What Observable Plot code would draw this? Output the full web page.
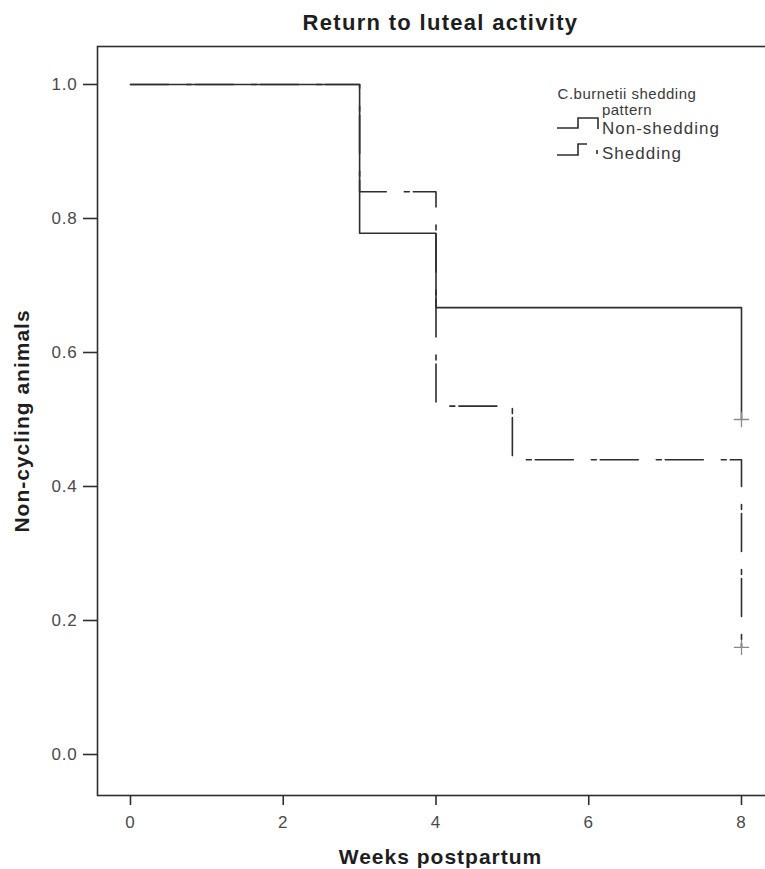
<!DOCTYPE html>
<html>
<head>
<meta charset="utf-8">
<script src="https://cdn.jsdelivr.net/npm/d3@7"></script>
<script src="https://cdn.jsdelivr.net/npm/@observablehq/plot@0.6"></script>
<style>
  html, body { margin: 0; padding: 0; background: white; overflow: hidden; }
  #wrap { position: relative; width: 765px; height: 869px; overflow: hidden; }
  #wrap svg.plot { display: block; max-width: none; }
  g[aria-label="x-axis tick label"], g[aria-label="y-axis tick label"] { fill: #4a4a4a; letter-spacing: 0.8px; }
  .ttl text { letter-spacing: 1.3px; }
  .lab text { letter-spacing: 1px; }
  #legend { position: absolute; left: 0; top: 0; pointer-events: none; font-family: "Liberation Sans", Arial, sans-serif; }
  #legend text { fill: #3a3a3a; }
  #legend text.t { font-size: 15px; letter-spacing: 0.5px; }
  #legend text.n { font-size: 17px; letter-spacing: 1px; }
</style>
</head>
<body>
<div id="wrap"></div>
<script>
// ---- data ----
const xTicks = [0, 2, 4, 6, 8];
const yTicks = [0, 0.2, 0.4, 0.6, 0.8, 1.0];

const nonSheddingWeeks = [0, 3, 4, 8];
const nonSheddingSurv  = [1.0, 0.778, 0.667, 0.5];

const sheddingWeeks = [0, 3, 4, 5, 8];
const sheddingSurv  = [1.0, 0.84, 0.52, 0.44, 0.16];

const censorWeeks = [8, 8];
const censorSurv  = [0.5, 0.16];

const titleText = "Return to luteal activity";
const xLabel = "Weeks postpartum";
const yLabel = "Non-cycling animals";
const legendTitle = ["C.burnetii shedding", "pattern"];
const legendNames = ["Non-shedding", "Shedding"];

const nonShed = nonSheddingWeeks.map((w, i) => ({week: w, surv: nonSheddingSurv[i]}));
const shed = sheddingWeeks.map((w, i) => ({week: w, surv: sheddingSurv[i]}));
const censor = censorWeeks.map((w, i) => ({week: w, surv: censorSurv[i]}));

const font = "Liberation Sans, Arial, Helvetica, sans-serif";
const ink = "#2e2e2e";

const chart = Plot.plot({
  width: 765,
  height: 869,
  marginLeft: 97,
  marginRight: -18,
  marginTop: 46,
  marginBottom: 74,
  x: {domain: [-0.432, 8.55]},
  y: {domain: [-0.0612, 1.0567]},
  style: {fontFamily: font, background: "white", color: ink},
  marks: [
    Plot.frame({stroke: ink, strokeWidth: 1.6}),
    Plot.axisX({ticks: xTicks, tickSize: 10, tickPadding: 10, fontSize: 17, tickFormat: d => String(d), label: null, strokeWidth: 1.6}),
    Plot.axisY({ticks: yTicks, tickSize: 14, tickPadding: 6, fontSize: 17, tickFormat: d3.format(".1f"), label: null, strokeWidth: 1.6}),
    Plot.line(shed, {x: "week", y: "surv", curve: "step-after", stroke: ink, strokeWidth: 1.6, strokeDasharray: "38,18,5,4"}),
    Plot.line(nonShed, {x: "week", y: "surv", curve: "step-after", stroke: ink, strokeWidth: 1.6}),
    Plot.dot(censor, {x: "week", y: "surv", symbol: "plus", r: 5, stroke: "#8a8a8a", fill: "none", strokeWidth: 1.3}),
    Plot.text([titleText], {text: d => d, frameAnchor: "top", lineAnchor: "middle", dy: -24, fontSize: 22, fontWeight: "bold", fill: "#1e1e1e", className: "ttl"}),
    Plot.text([xLabel], {text: d => d, frameAnchor: "bottom", lineAnchor: "middle", dy: 62, fontSize: 21, fontWeight: "bold", fill: "#1e1e1e", className: "lab"}),
    Plot.text([yLabel], {text: d => d, frameAnchor: "left", textAnchor: "middle", lineAnchor: "middle", dx: -75, rotate: -90, fontSize: 21, fontWeight: "bold", fill: "#1e1e1e", className: "lab"})
  ]
});
document.getElementById("wrap").appendChild(chart);

// ---- legend (overlay) ----
const lg = d3.select("#wrap").append("svg").attr("id", "legend").attr("width", 765).attr("height", 200);
lg.selectAll("text.t").data(legendTitle).join("text").attr("class", "t")
  .attr("x", 627).attr("y", (d, i) => 95 + i * 16).attr("text-anchor", "middle").attr("dominant-baseline", "middle").text(d => d);
lg.append("path").attr("d", "M557,128H578V118H598V129").attr("fill", "none").attr("stroke", ink).attr("stroke-width", 1.6);
lg.append("path").attr("d", "M557,155H578V144H587").attr("fill", "none").attr("stroke", ink).attr("stroke-width", 1.6);
lg.append("path").attr("d", "M597,150V154").attr("fill", "none").attr("stroke", ink).attr("stroke-width", 1.6);
lg.selectAll("text.n").data(legendNames).join("text").attr("class", "n")
  .attr("x", 602).attr("y", (d, i) => 130 + i * 25).attr("dominant-baseline", "middle").text(d => d);
</script>
</body>
</html>
